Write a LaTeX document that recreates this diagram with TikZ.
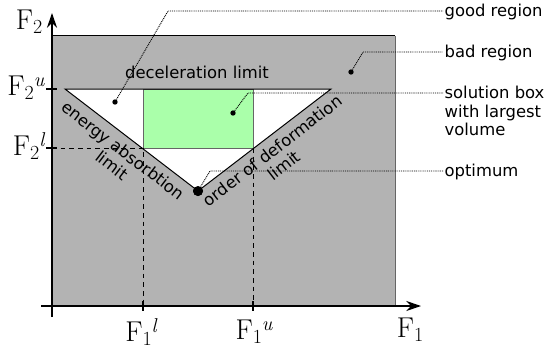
\documentclass[tikz,border=0pt]{standalone}
\usepackage{fontspec}
\setsansfont{DejaVu Sans}
\usetikzlibrary{arrows.meta, positioning, calc}
\definecolor{badgray}{HTML}{B3B3B3}
\definecolor{boxgreen}{HTML}{AAFFAA}
\definecolor{edgegray}{HTML}{666666}
\newcommand{\axF}[2]{\rmfamily F\raisebox{-3pt}{\fontsize{15}{15}\selectfont #1}\raisebox{7pt}{\fontsize{15}{15}\selectfont\itshape #2}}

\begin{document}
\begin{tikzpicture}[
    x=0.75pt, y=-0.75pt,
    every node/.style={font=\sffamily\fontsize{12.3}{14}\selectfont},
    axis/.style={line width=1.5pt, -{Stealth[length=11pt, width=7.5pt]}},
    tick/.style={line width=1.2pt},
    lim/.style={line width=0.75pt},
    guide/.style={line width=0.75pt, dash pattern=on 3.5pt off 3pt},
    lead/.style={line width=0.7pt, dash pattern=on 0.7pt off 0.7pt},
    pin/.style={circle, fill, inner sep=0pt, minimum size=4pt},
    axlbl/.style={font=\fontsize{21.5}{24}\selectfont, inner sep=1pt},
    note/.style={anchor=west, align=left, inner sep=1pt}
]
    \useasboundingbox (0,0) rectangle (545,353);
    \coordinate (O) at (52,306);
    \coordinate (tl) at (65,89);
    \coordinate (tr) at (331,89);
    \coordinate (boxnw) at (143,89);
    \coordinate (boxsw) at (143,148);
    \coordinate (boxse) at (253,148);

    \fill[badgray] (O) rectangle (395,36);
    \draw[lim] (52,36) -- (395,36);
    \draw[lim, edgegray] (395,36) -- (395,306);

    \node[pin, minimum size=7.5pt] (opt) at (198,191) {};
    \fill[white] (tl) -- (tr) -- (opt.center) -- cycle;
    \filldraw[fill=boxgreen, draw=edgegray, lim] (boxnw) rectangle (boxse);
    \draw[lim] (tl) -- (tr) -- (opt.center) -- cycle;
    \node[pin, minimum size=7.5pt] at (opt) {};

    \path (tl) -- node[sloped, below=2.5pt, align=center, inner sep=2.5pt] (energy) {energy absorbtion\\limit} (opt.center);
    \path (opt.center) -- node[sloped, below=2.5pt, align=center, inner sep=2.5pt] (order) {order of deformation\\limit} (tr);
    \node (decel) at (197,72) {deceleration limit};

    \draw[guide] (boxsw -| O) -- (boxsw) -- (boxsw |- O);
    \draw[guide] (boxse) -- (boxse |- O);

    \draw[axis] (52,317) -- (52,13);
    \draw[axis] (41,306) -- (421,306);
    \draw[tick] (46,89) -- (57,89);
    \draw[tick] (46,148) -- (57,148);
    \draw[tick] (143,301) -- (143,311);
    \draw[tick] (253,301) -- (253,311);

    \node[axlbl] (f2) at (29,22) {\axF{2}{}};
    \node[axlbl, anchor=east] (f2u) at (46,88) {\axF{2}{u}};
    \node[axlbl, anchor=east] (f2l) at (46,146) {\axF{2}{l}};
    \node[axlbl] (f1l) at (141,332) {\axF{1}{l}};
    \node[axlbl] (f1u) at (254,332) {\axF{1}{u}};
    \node[axlbl] (f1) at (410,330) {\axF{1}{}};

    \node[pin] (gooddot) at (115,102) {};
    \node[pin] (baddot) at (351,72) {};
    \node[pin] (soldot) at (233,113) {};
    \coordinate (goodbend) at (168,11);
    \coordinate (badbend) at (363,52);
    \coordinate (solbend) at (248,93);
    \coordinate (optbend) at (210,171);

    \node[note] (good) at (443,12) {good region};
    \node[note] (bad) at (443,53) {bad region};
    \node[note] (sol) at (443,111) {solution box\\with largest\\volume};
    \node[note] (optimum) at (443,172) {optimum};

    \draw[lead] (gooddot) -- (goodbend) -- (goodbend -| good.west);
    \draw[lead] (baddot) -- (badbend) -- (badbend -| bad.west);
    \draw[lead] (soldot) -- (solbend) -- (solbend -| sol.west);
    \draw[lead] (opt) -- (optbend) -- (optbend -| optimum.west);
\end{tikzpicture}
\end{document}
